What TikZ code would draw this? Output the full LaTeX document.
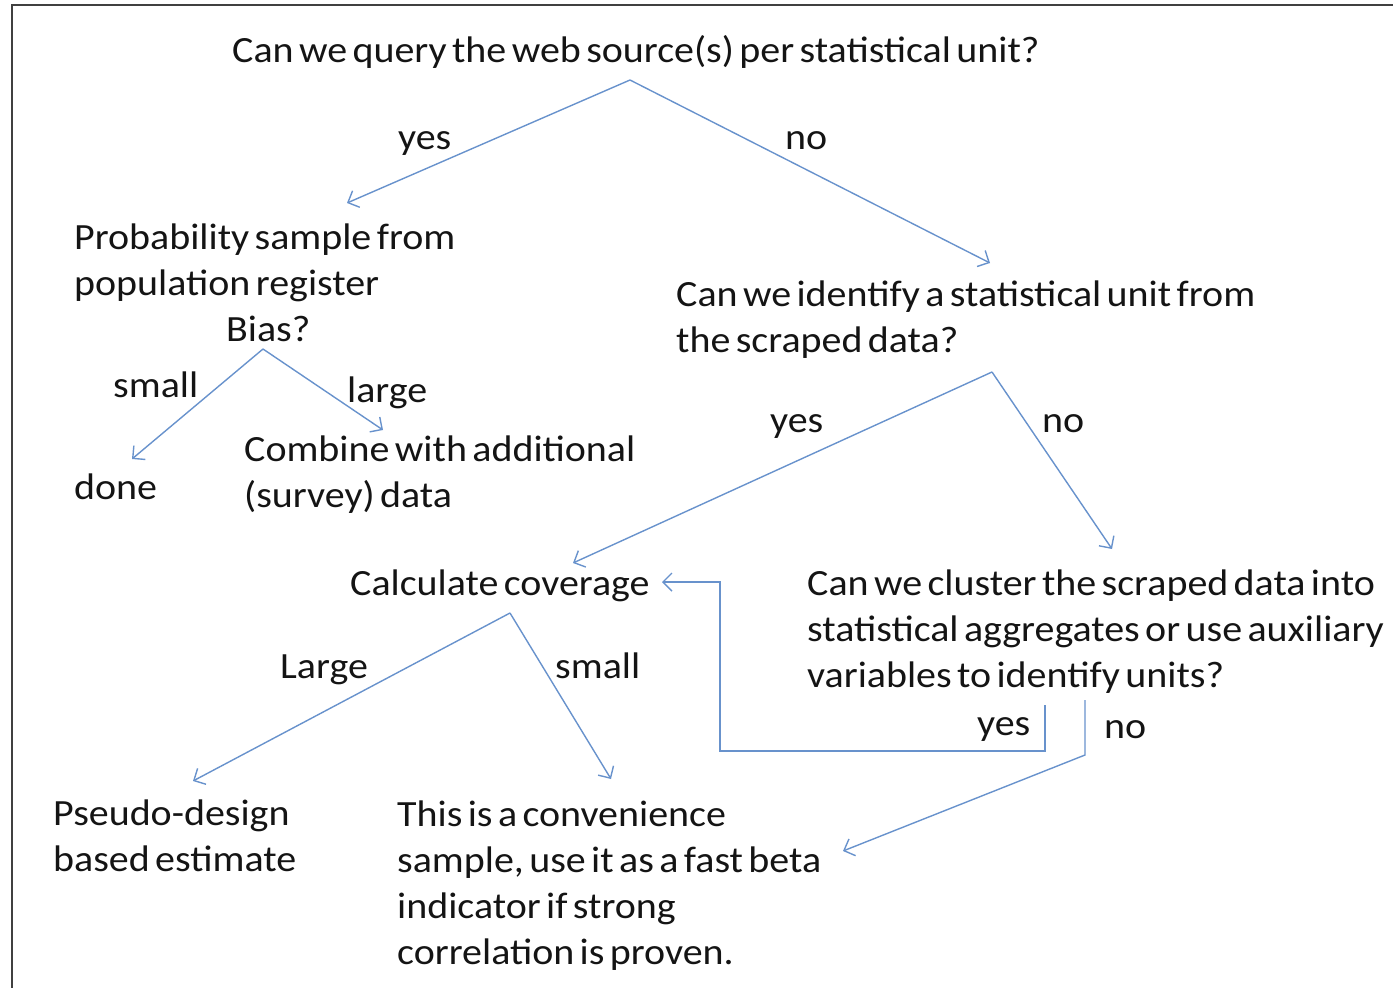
\documentclass[tikz,border=0pt]{standalone}
\usepackage{fontspec}
\setmainfont{Carlito}[FakeStretch=1.08, WordSpace=0.6]
\usepackage{tikz}
\usetikzlibrary{arrows.meta, positioning}

\definecolor{flowblue}{RGB}{104,146,204}
\definecolor{textgrey}{RGB}{20,20,20}

\tikzset{
  txt/.style={anchor=base west, inner sep=0pt, align=left, text=textgrey,
    font=\fontsize{37}{46}\selectfont},
  flow/.style={draw=flowblue, line width=1.4pt},
  tip/.style={flow, -{Straight Barb[length=9pt, width=18pt, line width=1.4pt]}}
}

\begin{document}
\begin{tikzpicture}[x=1pt, y=-1pt]
\useasboundingbox (0,0) rectangle (1393,988);
% frame
\draw[line width=2pt, black!75] (12,988) -- (12,5) -- (1393,5);

% Questions and outcomes (base = last line)
\node[txt] (web) at (232,62) {Can we query the web source(s) per statistical unit?};
\node[txt] (prob) at (74,295) {Probability sample from\\population register};
\node[txt] (bias) at (226,341) {Bias?};
\node[txt] (done) at (74,499) {done};
\node[txt] (comb) at (244,507) {Combine with additional\\(survey) data};
\node[txt] (ident) at (676,352) {Can we identify a statistical unit from\\the scraped data?};
\node[txt] (cover) at (350,595) {Calculate coverage};
\node[txt] (clust) at (807,687) {Can we cluster the scraped data into\\statistical aggregates or use auxiliary\\variables to identify units?};
\node[txt] (pseudo) at (53,871) {Pseudo-design\\based estimate};
\node[txt] (conv) at (397,964) {This is a convenience\\sample, use it as a fast beta\\indicator if strong\\correlation is proven.};

% Answers
\node[txt] (webyes) at (398,149) {yes};
\node[txt] (webno) at (785,149) {no};
\node[txt] (biassmall) at (113,397) {small};
\node[txt] (biaslarge) at (347,402) {large};
\node[txt] (idyes) at (770,432) {yes};
\node[txt] (idno) at (1042,432) {no};
\node[txt] (covlarge) at (280,678) {Large};
\node[txt] (covsmall) at (555,678) {small};
\node[txt] (clyes) at (977,735) {yes};
\node[txt] (clno) at (1104,738) {no};

% Branch points and arrow ends
\coordinate (webtop) at (630,80);
\coordinate (webl) at (347,203);
\coordinate (webr) at (990,263);
\coordinate (biastop) at (263,349);
\coordinate (biasl) at (132,459);
\coordinate (biasr) at (383,430);
\coordinate (idtop) at (992,372);
\coordinate (idl) at (573,563);
\coordinate (idr) at (1112,549);
\coordinate (covtop) at (510,613);
\coordinate (covl) at (193,781);
\coordinate (covr) at (611,779);
\coordinate (clyestop) at (1045,705);
\coordinate (clyesin) at (662,582);
\coordinate (clnotop) at (1085,700);
\coordinate (clnoend) at (843,851);

% Connectors
\draw[tip] (webtop) -- (webl);
\draw[tip] (webtop) -- (webr);
\draw[tip] (biastop) -- (biasl);
\draw[tip] (biastop) -- (biasr);
\draw[tip] (idtop) -- (idl);
\draw[tip] (idtop) -- (idr);
\draw[tip] (covtop) -- (covl);
\draw[tip] (covtop) -- (covr);
\draw[tip] (clyestop) -- (1045,751) -- (720,751) -- (720,582) -- (clyesin);
\draw[tip] (clnotop) -- (1085,755) -- (clnoend);
\end{tikzpicture}
\end{document}
